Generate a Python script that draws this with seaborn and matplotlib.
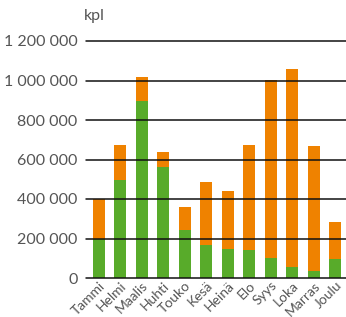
import pandas as pd
import matplotlib.pyplot as plt
import seaborn as sns

# --- Dados ---
kuukaudet = ['Tammi', 'Helmi', 'Maalis', 'Huhti', 'Touko', 'Kesä',
             'Heinä', 'Elo', 'Syys', 'Loka', 'Marras', 'Joulu']
vihrea = [200000, 498000, 898000, 564000, 245000, 167000,
          147000, 143000, 103000, 56000, 35000, 96000]
yhteensa = [400000, 673000, 1018000, 640000, 360000, 486000,
            440000, 673000, 1001000, 1058000, 670000, 284000]
y_ticks = [0, 200000, 400000, 600000, 800000, 1000000, 1200000]

df = pd.DataFrame({'kuukausi': kuukaudet, 'vihrea': vihrea, 'yhteensa': yhteensa})

sns.set_theme(style='white')
plt.rcParams['font.family'] = ['Lato', 'DejaVu Sans']

fig = plt.figure(figsize=(3.46, 3.17), dpi=100)
ax = fig.add_axes([86 / 346, (317 - 278) / 317, 1 - 86 / 346, (278 - 41) / 317])

# pino: oranssi koko korkeus, vihreä päälle
sns.barplot(data=df, x='kuukausi', y='yhteensa', color='#ef8200', saturation=1,
            width=0.56, linewidth=0, ax=ax, zorder=2)
sns.barplot(data=df, x='kuukausi', y='vihrea', color='#58ab2a', saturation=1,
            width=0.56, linewidth=0, ax=ax, zorder=2)

for t in y_ticks:
    ax.axhline(t, color='#111111', lw=1.1, zorder=3, clip_on=False)

ax.set_xlim(-0.6, 11.5)
ax.set_ylim(0, 1200000)
ax.set_yticks(y_ticks)
ax.set_yticklabels([f'{t:,}'.replace(',', ' ') for t in y_ticks])
ax.tick_params(axis='y', length=0, pad=6, labelsize=11.5, labelcolor='#555555')
ax.tick_params(axis='x', length=0, pad=1, labelsize=10, labelcolor='#555555')
plt.setp(ax.get_xticklabels(), rotation=45, ha='right', rotation_mode='anchor')
ax.set_xlabel('')
ax.set_ylabel('')
for s in ax.spines.values():
    s.set_visible(False)

fig.text(84 / 346, 1 - 16 / 317, 'kpl', fontsize=11.5, color='#555555', va='center')

fig.savefig('out.png', dpi=100)
